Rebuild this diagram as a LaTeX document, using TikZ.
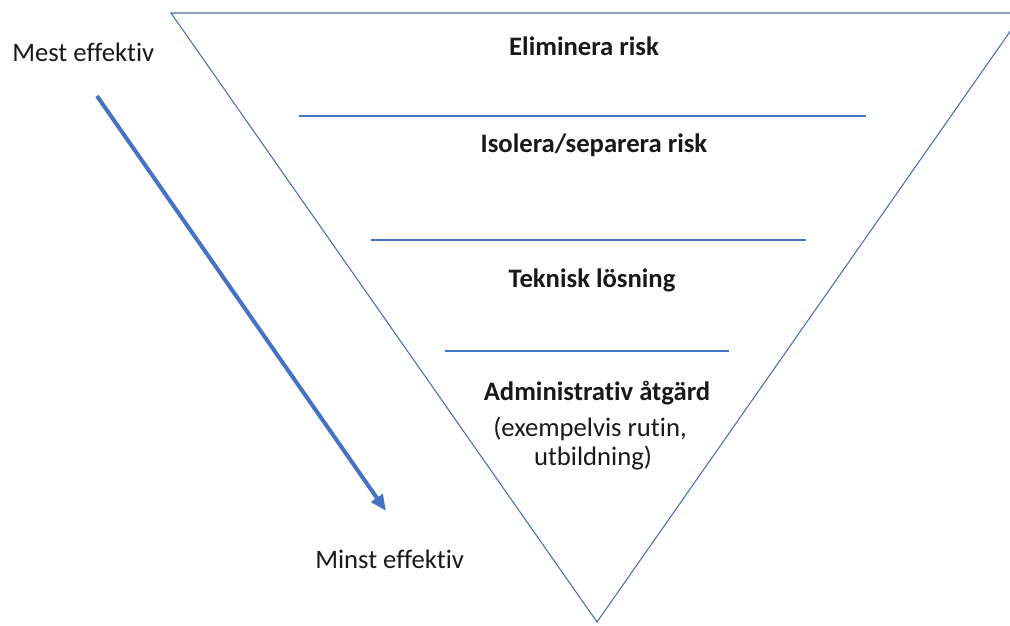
\documentclass[tikz,border=0pt]{standalone}
\usepackage{fontspec}
\setmainfont[Ligatures=NoCommon]{Carlito}
\usetikzlibrary{arrows.meta}
\definecolor{tri}{HTML}{4A6FAA}
\definecolor{sep}{HTML}{4472C4}
\definecolor{arr}{HTML}{4472C4}
\begin{document}
\begin{tikzpicture}[x=0.75pt,y=-0.75pt,
  lbl/.style={font=\fontsize{20}{24}\selectfont, anchor=base, inner sep=0pt, text=black!90},
  blbl/.style={lbl, font=\fontsize{20}{24}\selectfont\bfseries},
  sepline/.style={draw=sep, line width=0.8pt},
  triline/.style={draw=tri, line width=0.8pt}]
\useasboundingbox (0,0) rectangle (1010,625);
\begin{scope}
\clip (0,0) rectangle (1010,625);
\coordinate (tl) at (171,13);
\coordinate (tr) at (1023,13);
\coordinate (ap) at (597,622);
\draw[triline, line join=miter] (tl) -- (tr) -- (ap) -- cycle;
\end{scope}
% separators
\coordinate (s1a) at (299,116); \coordinate (s1b) at (866,116);
\coordinate (s2a) at (371,240); \coordinate (s2b) at (806,240);
\coordinate (s3a) at (445,351); \coordinate (s3b) at (729,351);
\draw[sepline] (s1a) -- (s1b);
\draw[sepline] (s2a) -- (s2b);
\draw[sepline] (s3a) -- (s3b);
% texts
\node[blbl] (t1) at (584,55) {Eliminera risk};
\node[blbl] (t2) at (594,152) {Isolera/separera risk};
\node[blbl] (t3) at (592,287) {Teknisk lösning};
\node[blbl] (t4) at (597,400) {Administrativ åtgärd};
\node[lbl] (t5) at (590,436) {(exempelvis rutin,};
\node[lbl] (t6) at (593,465) {utbildning)};
\node[lbl, anchor=base west] (most) at (12,61) {Mest effektiv};
\node[lbl, anchor=base west] (least) at (315,568) {Minst effektiv};
% arrow
\coordinate (a0) at (97,96);
\coordinate (a1) at (386,511);
\draw[draw=arr, line width=3pt, -{Triangle[length=12pt,width=10pt]}] (a0) -- (a1);
\end{tikzpicture}
\end{document}
